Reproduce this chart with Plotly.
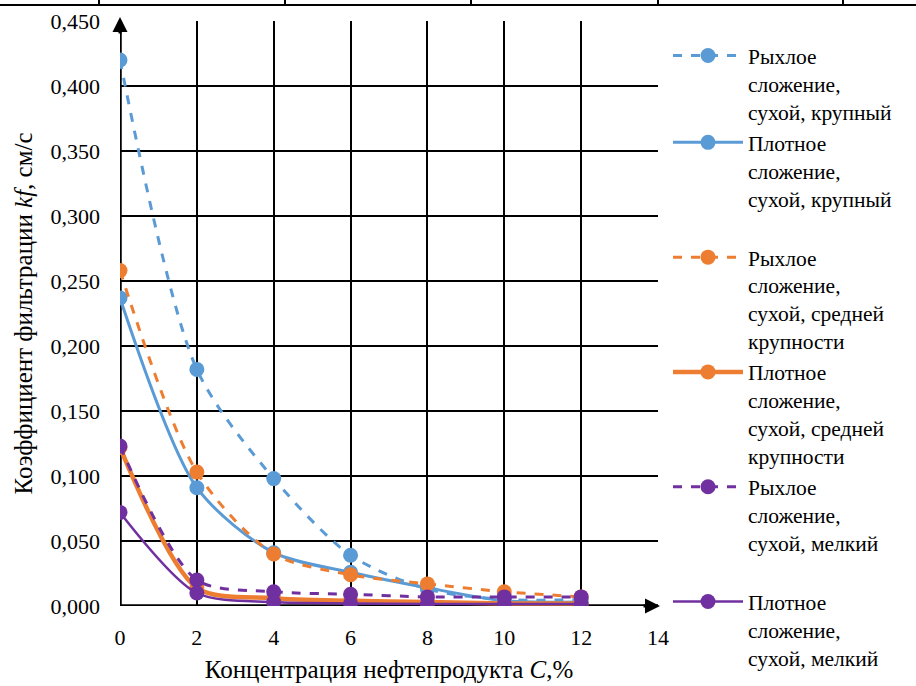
import plotly.graph_objects as go

# Концентрация нефтепродукта, %
conc = [0, 2, 4, 6, 8, 10, 12]

# Коэффициент фильтрации kf, см/с
loose_coarse = [0.420, 0.182, 0.098, 0.039, 0.013, 0.005, 0.005]
dense_coarse = [0.237, 0.091, 0.041, 0.026, 0.014, 0.004, 0.003]
loose_medium = [0.258, 0.103, 0.040, 0.024, 0.017, 0.011, 0.007]
dense_medium = [0.122, 0.014, 0.006, 0.004, 0.003, 0.002, 0.002]
loose_fine = [0.123, 0.020, 0.011, 0.009, 0.007, 0.007, 0.007]
dense_fine = [0.072, 0.010, 0.003, 0.002, 0.0015, 0.0015, 0.0015]

names = [
    "Рыхлое<br>сложение,<br>сухой, крупный",
    "Плотное<br>сложение,<br>сухой, крупный<br> ",
    "Рыхлое<br>сложение,<br>сухой, средней<br>крупности",
    "Плотное<br>сложение,<br>сухой, средней<br>крупности",
    "Рыхлое<br>сложение,<br>сухой, мелкий<br> ",
    "Плотное<br>сложение,<br>сухой, мелкий",
]
series = [loose_coarse, dense_coarse, loose_medium, dense_medium, loose_fine, dense_fine]
colors = ["#5B9BD5", "#5B9BD5", "#ED7D31", "#ED7D31", "#7030A0", "#7030A0"]
dashes = ["dash", "solid", "dash", "solid", "dash", "solid"]
widths = [3, 3, 3, 4.5, 3, 2.5]

FONT = "Liberation Serif"

fig = go.Figure()
for name, ys, c, d, w in zip(names, series, colors, dashes, widths):
    fig.add_trace(go.Scatter(
        x=conc, y=ys, name=name, mode="lines+markers",
        line=dict(color=c, dash=d, width=w, shape="spline", smoothing=0.8),
        marker=dict(color=c, size=15),
    ))

# pixel helpers for the decorative frame (plot area spans 120..658 x 21..606)
def px_to_paper_x(px):
    return (px - 120) / 538

def px_to_paper_y(py):
    return (606 - py) / 585

# row border of the surrounding table
shapes = [dict(type="line", xref="paper", yref="paper",
               x0=px_to_paper_x(0), x1=px_to_paper_x(916),
               y0=px_to_paper_y(5), y1=px_to_paper_y(5),
               line=dict(color="black", width=2))]
for vx in [99, 285, 471, 658, 843]:
    shapes.append(dict(type="line", xref="paper", yref="paper",
                       x0=px_to_paper_x(vx), x1=px_to_paper_x(vx),
                       y0=px_to_paper_y(0), y1=px_to_paper_y(5),
                       line=dict(color="black", width=2)))
# heavy axis lines
shapes.append(dict(type="line", xref="x", yref="y", x0=0, x1=14, y0=0, y1=0,
                   line=dict(color="black", width=3.5), layer="below"))
shapes.append(dict(type="line", xref="x", yref="y", x0=0, x1=0, y0=0, y1=0.45,
                   line=dict(color="black", width=3.5), layer="below"))

# arrow heads at the axis ends
annotations = [
    dict(x=0, y=px_to_paper_y(17), xref="x", yref="paper", ax=0, ay=18, showarrow=True,
         arrowhead=2, arrowsize=1, arrowwidth=3, arrowcolor="black", text=""),
    dict(x=px_to_paper_x(660), y=0, xref="paper", yref="y", ax=-18, ay=0, showarrow=True,
         arrowhead=2, arrowsize=1, arrowwidth=3, arrowcolor="black", text=""),
]

fig.update_layout(
    width=916, height=686,
    margin=dict(l=120, r=258, t=21, b=80, autoexpand=False),
    paper_bgcolor="white", plot_bgcolor="white",
    separators=", ",
    font=dict(family=FONT, size=22, color="black"),
    shapes=shapes, annotations=annotations,
    legend=dict(
        xref="container", yref="container",
        x=668 / 916, y=1 - 35 / 686, xanchor="left", yanchor="top",
        valign="top", tracegroupgap=0, itemwidth=70,
        maxheight=1.0,
        font=dict(family=FONT, size=21.5, color="black"),
        bgcolor="rgba(0,0,0,0)",
    ),
    xaxis=dict(
        range=[0, 14], tick0=0, dtick=2,
        showgrid=True, gridcolor="black", gridwidth=2,
        zeroline=False, showline=False,
        ticks="", ticklabelstandoff=16,
        tickfont=dict(family=FONT, size=22),
        title=dict(text="Концентрация нефтепродукта <i>C</i>,%", standoff=11,
                   font=dict(family=FONT, size=25)),
    ),
    yaxis=dict(
        range=[0, 0.45], tick0=0, dtick=0.05, tickformat=".3f",
        showgrid=True, gridcolor="black", gridwidth=2,
        zeroline=False, showline=False,
        ticks="", ticklabelstandoff=19,
        tickfont=dict(family=FONT, size=22),
        title=dict(text="Коэффициент фильтрации <i>kf</i>, см/с", standoff=10,
                   font=dict(family=FONT, size=25)),
    ),
)

fig.write_html("out.html")
